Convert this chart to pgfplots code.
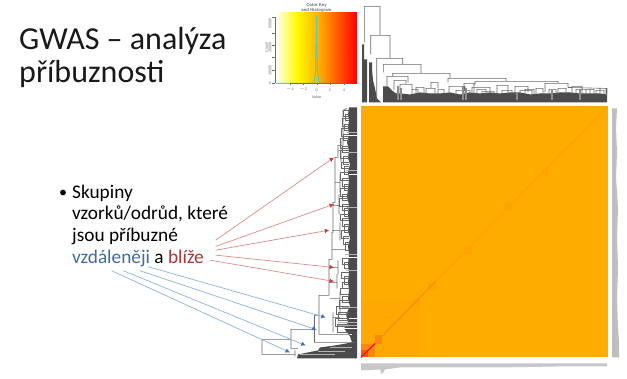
\documentclass[border=0pt]{standalone}
\usepackage{fontspec}
\setmainfont{Carlito}
\newfontfamily\keyfont{Liberation Sans}
\usepackage{pgfplots}
\usetikzlibrary{arrows.meta}
\pgfplotsset{compat=1.18}
\definecolor{heatbase}{RGB}{255,171,0}
\definecolor{heatmid}{RGB}{254,160,4}
\definecolor{heatdeep}{RGB}{250,135,15}
\definecolor{heatred}{RGB}{245,90,15}
\definecolor{arrred}{RGB}{222,140,140}
\definecolor{arrblue}{RGB}{140,180,226}
\definecolor{tipred}{RGB}{200,60,60}
\definecolor{tipblue}{RGB}{60,115,190}
\definecolor{txtblue}{RGB}{62,108,170}
\definecolor{txtred}{RGB}{170,55,55}
\definecolor{dend}{RGB}{105,105,105}
\definecolor{band}{RGB}{75,75,75}
\definecolor{teal}{RGB}{90,205,185}
\definecolor{keygrey}{RGB}{110,110,110}
\tikzset{rarr/.style={arrred,line width=.7pt,-{Latex[length=4.5pt,width=4.5pt,color=tipred]}},
 barr/.style={arrblue,line width=.7pt,-{Latex[length=4.5pt,width=4.5pt,color=tipblue]}}}
\begin{document}
\begin{tikzpicture}
\begin{axis}[
  scale only axis, width=627pt, height=376pt,
  xmin=0, xmax=627, ymin=0, ymax=376, y dir=reverse,
  hide axis, clip=false, unbounded coords=jump,
  colormap={key}{rgb255(0cm)=(255,255,225); rgb255(1cm)=(255,250,0); rgb255(2cm)=(255,178,0); rgb255(3cm)=(255,0,0)},
]
% ---- page
\addplot[fill=white,draw=none] coordinates {(0,0)(627,0)(627,376)(0,376)} -- cycle;
% ---- heat map
\addplot[fill=heatbase,draw=none] coordinates {(360.7,104)(607.7,104)(607.7,355)(360.7,355)} -- cycle;
\addplot[fill=heatmid,draw=none,opacity=.25] coordinates {(361,300)(420,300)(420,355)(361,355)} -- cycle;
\addplot[fill=heatmid,draw=none,opacity=.7] coordinates {(412,297)(420,297)(420,305)(412,305)} -- cycle;
\addplot[fill=heatmid,draw=none,opacity=.7] coordinates {(428,280)(437,280)(437,288)(428,288)} -- cycle;
\addplot[fill=heatmid,draw=none,opacity=.5] coordinates {(464,245)(472,245)(472,253)(464,253)} -- cycle;
\addplot[fill=heatmid,draw=none,opacity=.5] coordinates {(505,200)(512,200)(512,208)(505,208)} -- cycle;
\addplot[fill=heatmid,draw=none,opacity=.5] coordinates {(542,167)(548,167)(548,173)(542,173)} -- cycle;
\addplot[fill=heatdeep,draw=none] coordinates {(375,333)(382,333)(382,342)(375,342)} -- cycle;
\addplot[fill=heatdeep,draw=none] coordinates {(361,342)(375,342)(375,355)(361,355)} -- cycle;
\addplot[fill=heatred,draw=none] coordinates {(361,348)(368,348)(368,355)(361,355)} -- cycle;
\addplot[heatmid,line width=.7pt] coordinates {(436,278.5)(607.7,104)};
\addplot[heatdeep,line width=.9pt] coordinates {(375,341)(436,278.5)};
\addplot[red!85!orange,line width=1.2pt] coordinates {(361,355)(375,341)};
% ---- right and bottom label strips (illegible in the reference)
\addplot[fill=black!25,draw=none] coordinates {(612,106)(617,106)(616,125)(617,150)(616,175)(618,205)(617,235)(618,265)(617,295)(618,325)(619,340)(619,355)(612,355)} -- cycle;
\addplot[fill=black!22,draw=none] coordinates {(361,361)(400,361)(440,361)(500,361)(560,361)(607,361)(607,364)(560,364)(500,365)(440,365)(400,365)(385,367)(382,372)(380,367)(361,368)} -- cycle;
% ---- top dendrogram band
\addplot[fill=band,draw=none] coordinates {(362,100)(362,42)(364,42)(364,57)(367,57)(367,100)} -- cycle;
\addplot[fill=band,draw=none] coordinates {(369,100)(369,60)(372,60)(372,66)(373,78)(375,86)(377,96)(381,100)} -- cycle;
\addplot[fill=band,draw=none] coordinates {(383,100)(383,84)(388,84)(392,88)(396,91)(400,91)(410,92)(420,90)(430,91)(440,91)(450,90)(460,92)(470,90)(480,91)(490,90)(500,91)(510,90)(520,90)(530,92)(540,91)(550,91)(560,90)(570,90)(580,91)(590,91)(600,91)(607,92)(607,100)} -- cycle;
% ---- top dendrogram lines
\addplot[dend,line width=.6pt] coordinates {
(364.3,40)(364.3,4)(380,4)(380,33)(nan,nan)
(370.7,52)(370.7,33)(390,33)(390,56)(nan,nan)
(376.7,97)(376.7,56)(402.7,56)(402.7,62)(nan,nan)
(383.3,70)(383.3,62)(421,62)(421,71)(nan,nan)
(392.7,74)(392.7,71)(450,71)(450,76)(nan,nan)
(387,84)(387,74)(408,74)(408,80)(nan,nan)
(394,88)(394,78)(406,78)(406,82)(nan,nan)
(400,92)(400,82)(412,82)(412,88)(nan,nan)
(431,86)(431,80)(438,80)(438,86)(nan,nan)
(426,92)(426,86)(435,86)(435,92)(nan,nan)
(438,92)(438,87)(444,87)(444,92)(nan,nan)
(448,80)(448,76)(506,76)(506,79)(nan,nan)
(449,92)(449,84)(465,84)(465,88)(nan,nan)
(456,92)(456,88)(470,88)(470,92)(nan,nan)
(475,82)(475,79)(558,79)(558,81)(nan,nan)
(464,92)(464,81)(474,81)(474,92)(nan,nan)
(472,90)(472,85)(490,85)(490,90)(nan,nan)
(482,92)(482,89)(494,89)(494,92)(nan,nan)
(497,92)(497,83)(508,83)(508,92)(nan,nan)
(502,92)(502,88)(512,88)(512,92)(nan,nan)
(515,92)(515,84)(528,84)(528,90)(nan,nan)
(520,92)(520,88)(532,88)(532,92)(nan,nan)
(536,92)(536,86)(543,86)(543,92)(nan,nan)
(545,90)(545,81)(568,81)(568,85)(nan,nan)
(549,92)(549,87)(556,87)(556,92)(nan,nan)
(558,92)(558,86)(566,86)(566,92)(nan,nan)
(568,85)(607,86)(607,92)(nan,nan)
(572,92)(572,84)(582,84)(582,92)(nan,nan)
(586,92)(586,87)(594,87)(594,92)(nan,nan)
(596,92)(596,88)(604,88)(604,92)(nan,nan)
(412,92)(412,87)(418,87)(418,92)(nan,nan)
(416,92)(416,85)(424,85)(424,92)(nan,nan)
(477,92)(477,87)(486,87)(486,92)(nan,nan)
(525,92)(525,87)(534,87)(534,92)(nan,nan)
(576,92)(576,87)(590,87)(590,92)(nan,nan)
(600,92)(600,86)(606,86)(606,92)
};
\addplot[black!45,line width=1.1pt] coordinates {(398,98)(398,84)(nan,nan)(463,98)(463,84)(nan,nan)(401,98)(401,86)(nan,nan)(466,98)(466,86)(nan,nan)(517,98)(517,90)(nan,nan)(552,98)(552,88)(nan,nan)(580,98)(580,88)};
% ---- left dendrogram band
\addplot[fill=band,draw=none] coordinates {(357,105)(349,105)(348,112)(349,118)(348,125)(349,132)(347,140)(349,148)(348,156)(350,162)(348,170)(349,178)(348,186)(347,195)(349,202)(348,212)(349,220)(348,228)(350,236)(348,244)(349,252)(348,262)(349,270)(348,280)(349,288)(348,296)(350,304)(346,312)(348,320)(344,326)(350,334)(352,340)(335,343)(320,345)(318,348)(298,352)(297,356)(357,356)} -- cycle;
\addplot[black!30,line width=.9pt] coordinates {(347,130.5)(357,130.5)(nan,nan)(347,150)(357,150)(nan,nan)(346,168)(357,168)(nan,nan)(347,205)(357,205)(nan,nan)(345,252)(357,252)(nan,nan)(346,268)(357,268)(nan,nan)(342,305)(357,305)(nan,nan)(338,320)(357,320)(nan,nan)(338,323)(357,323)(nan,nan)(330,345.5)(352,345.5)(nan,nan)(318,349)(345,349)(nan,nan)(300,352.5)(335,352.5)};
\addplot[white,line width=.5pt] coordinates {(347,133)(357,133)(nan,nan)(346,172)(357,172)(nan,nan)(347,255)(357,255)(nan,nan)(340,316)(357,316)(nan,nan)(338,326)(357,326)(nan,nan)(338,332)(352,332)};
% ---- left dendrogram lines
\addplot[dend,line width=.6pt] coordinates {
(355,340)(314.5,340)(314.5,313)(319,313)(nan,nan)
(298,346)(291,346)(291,327)(314.5,327)(nan,nan)
(291,337)(262,337)(262,352)(295,352)(nan,nan)
(295,348)(295,354)(nan,nan)
(350,332)(319,332)(319,293)(329,293)(nan,nan)
(329,293)(329,257)(332,257)(332,230)(333,230)(333,200)(335,200)(335,155)(338,155)(338,143)(343,143)(343,108)(347,106)(nan,nan)
(329,280)(337,280)(nan,nan)(337,272)(337,286)(nan,nan)
(329,265)(338,265)(nan,nan)(338,258)(338,272)(nan,nan)
(332,247)(345,247)(nan,nan)(332,228)(340,228)(nan,nan)(340,220)(340,238)(nan,nan)
(333,203)(339,203)(nan,nan)(339,192)(339,212)(nan,nan)
(335,180)(340,180)(nan,nan)(340,172)(340,190)(nan,nan)
(338,148)(341,148)(nan,nan)(341,138)(341,160)(nan,nan)
(330,296)(340,296)(nan,nan)(340,290)(340,312)(nan,nan)
(333,315)(340,315)(nan,nan)(333,310)(333,330)
};
\addplot[dend,line width=.5pt] coordinates {
(349,108)(343,108)(343,114)(349,114)(nan,nan)(349,112)(345,112)(345,118)(349,118)(nan,nan)
(349,116)(342,116)(342,124)(349,124)(nan,nan)(349,122)(344,122)(344,128)(349,128)(nan,nan)
(349,126)(341,126)(341,134)(349,134)(nan,nan)(349,132)(343,132)(343,138)(349,138)(nan,nan)
(349,136)(340,136)(340,146)(349,146)(nan,nan)(349,144)(342,144)(342,150)(349,150)(nan,nan)
(349,148)(340,148)(340,156)(349,156)(nan,nan)(349,154)(343,154)(343,162)(349,162)(nan,nan)
(349,160)(341,160)(341,166)(349,166)(nan,nan)(349,164)(344,164)(344,172)(349,172)(nan,nan)
(349,170)(340,170)(340,178)(349,178)(nan,nan)(349,176)(342,176)(342,184)(349,184)(nan,nan)
(349,182)(344,182)(344,188)(349,188)(nan,nan)(349,186)(340,186)(340,194)(349,194)(nan,nan)
(349,192)(342,192)(342,198)(349,198)(nan,nan)(349,196)(339,196)(339,204)(349,204)(nan,nan)
(349,202)(342,202)(342,208)(349,208)(nan,nan)(349,206)(344,206)(344,214)(349,214)(nan,nan)
(349,212)(340,212)(340,218)(349,218)(nan,nan)(349,216)(342,216)(342,224)(349,224)(nan,nan)
(349,222)(344,222)(344,230)(349,230)(nan,nan)(349,228)(341,228)(341,236)(349,236)(nan,nan)
(349,234)(343,234)(343,242)(349,242)(nan,nan)(349,240)(345,240)(345,248)(349,248)(nan,nan)
(349,256)(342,256)(342,262)(349,262)(nan,nan)(349,260)(344,260)(344,266)(349,266)(nan,nan)
(349,270)(341,270)(341,276)(349,276)(nan,nan)(349,274)(344,274)(344,282)(349,282)(nan,nan)
(349,280)(342,280)(342,286)(349,286)(nan,nan)(349,286)(340,286)(340,292)(349,292)(nan,nan)
(349,294)(342,294)(342,300)(349,300)(nan,nan)(349,298)(339,298)(339,306)(349,306)(nan,nan)
(349,304)(336,304)(336,312)(349,312)(nan,nan)(349,310)(338,310)(338,318)(349,318)(nan,nan)
(349,316)(335,316)(335,324)(349,324)(nan,nan)(349,322)(337,322)(337,330)(349,330)
};
% ---- colour key
\addplot[surf,shader=interp,colormap name=key,point meta min=0,point meta max=3,mesh/rows=2,point meta=explicit] coordinates {
(277.7,9.3)[0] (297,9.3)[1] (318,9.3)[2] (356.7,9.3)[3]
(277.7,80.7)[0] (297,80.7)[1] (318,80.7)[2] (356.7,80.7)[3]};
\addplot[teal,line width=1pt] coordinates {(276,81)(312,81)(314,80)(315.5,70)(316.5,14)(317.5,70)(319,80)(322,81)(325,81)};
\addplot[keygrey,line width=.3pt] coordinates {(290,81)(344,81)(nan,nan)(290,81)(290,83)(nan,nan)(303.3,81)(303.3,83)(nan,nan)(316.7,81)(316.7,83)(nan,nan)(330,81)(330,83)(nan,nan)(344,81)(344,83)(nan,nan)
(275,15)(275,81)(nan,nan)(272,15)(275,15)(nan,nan)(272,31)(275,31)(nan,nan)(272,43)(275,43)(nan,nan)(272,55)(275,55)(nan,nan)(272,68)(275,68)(nan,nan)(272,81)(275,81)};
\node[keygrey,font=\keyfont\fontsize{4.3}{5}\selectfont,align=center] at (axis cs:316.5,5.2) {\textbf{Color Key}\\[-.4pt]\textbf{and Histogram}};
\foreach \x/\t in {290/$-$4,303.3/$-$2,316.7/0,330/2,344/4}{
  \edef\temp{\noexpand\node[keygrey,font=\noexpand\keyfont\noexpand\fontsize{3.8}{4}\noexpand\selectfont] at (axis cs:\x,87.3) {\t};}\temp}
\node[keygrey,font=\keyfont\fontsize{3.8}{4}\selectfont] at (axis cs:316.5,94.3) {Value};
\node[keygrey,rotate=90,font=\keyfont\fontsize{3.8}{4}\selectfont] at (axis cs:270,21) {50000};
\node[keygrey,rotate=90,font=\keyfont\fontsize{3.8}{4}\selectfont] at (axis cs:270,45) {30000};
\node[keygrey,rotate=90,font=\keyfont\fontsize{3.8}{4}\selectfont] at (axis cs:270,68) {10000};
\node[keygrey,rotate=90,font=\keyfont\fontsize{3.8}{4}\selectfont] at (axis cs:266.5,45) {Count};
\node[keygrey,font=\keyfont\fontsize{3.8}{4}\selectfont] at (axis cs:270,81) {0};
% ---- arrows
\addplot[rarr] coordinates {(215.7,237.7)(334,155)};
\addplot[rarr] coordinates {(215.7,244)(334,201.7)};
\addplot[rarr] coordinates {(215.7,247.7)(329.3,227.7)};
\addplot[rarr] coordinates {(215.7,252.7)(334,265)};
\addplot[rarr] coordinates {(210,257.7)(334,279)};
\addplot[barr] coordinates {(148.3,264.3)(325.7,315)};
\addplot[barr] coordinates {(140,268.3)(316.7,327.3)};
\addplot[barr] coordinates {(123.3,268.3)(305.7,343)};
\addplot[barr] coordinates {(111.7,268.3)(290,350)};
% ---- texts
\node[anchor=base west,inner sep=0pt,font=\fontsize{32}{38}\selectfont,text=black!90] at (axis cs:19,47) {GWAS – analýza};
\node[anchor=base west,inner sep=0pt,font=\fontsize{32}{38}\selectfont,text=black!90] at (axis cs:19,80.5) {příbuznosti};
\node[anchor=base west,inner sep=0pt,font=\fontsize{16}{20}\selectfont] at (axis cs:59,195) {•};
\node[anchor=base west,inner sep=0pt,font=\fontsize{19.3}{22}\selectfont] at (axis cs:72,196) {Skupiny};
\node[anchor=base west,inner sep=0pt,font=\fontsize{19.3}{22}\selectfont] at (axis cs:72,217) {vzorků/odrůd, které};
\node[anchor=base west,inner sep=0pt,font=\fontsize{19.3}{22}\selectfont] at (axis cs:72,239) {jsou příbuzné};
\node[anchor=base west,inner sep=0pt,font=\fontsize{19.3}{22}\selectfont] at (axis cs:72,261.5) {\textcolor{txtblue}{vzdáleněji} a \textcolor{txtred}{blíže}};
\end{axis}
\end{tikzpicture}
\end{document}
